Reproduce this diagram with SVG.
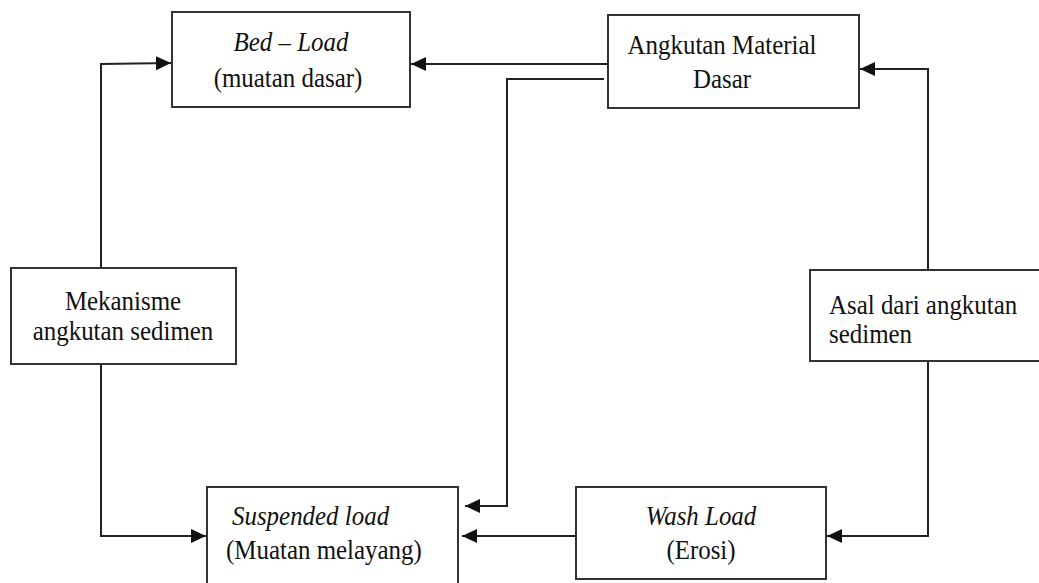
<svg xmlns="http://www.w3.org/2000/svg" width="1039" height="583" viewBox="0 0 1039 583">
<defs>
<style>
.box{fill:#fff;stroke:#333;stroke-width:2}
.t{font-family:"Liberation Serif","Times New Roman",serif;font-size:28px;fill:#111}
.c{text-anchor:middle}
.i{font-style:italic}
.ln{fill:none;stroke:#222;stroke-width:2}
</style>
<marker id="ah" markerUnits="userSpaceOnUse" markerWidth="16" markerHeight="16" refX="15" refY="8" orient="auto">
<path d="M0,1 L15,8 L0,15 Z" fill="#111"/>
</marker>
</defs>
<rect width="1039" height="583" fill="#fff"/>
<g id="connectors">
<path class="ln" d="M101,268 L101,64 L171,63" marker-end="url(#ah)"/>
<path class="ln" d="M101,364 L101,536 L206,536" marker-end="url(#ah)"/>
<path class="ln" d="M608,64 L411,64" marker-end="url(#ah)"/>
<path class="ln" d="M604,79 L507,79 L507,506 L465,506" marker-end="url(#ah)"/>
<path class="ln" d="M928,270 L928,69 L860,69" marker-end="url(#ah)"/>
<path class="ln" d="M928,361 L928,536 L827,536" marker-end="url(#ah)"/>
<path class="ln" d="M576,536 L462,536" marker-end="url(#ah)"/>
</g>
<g id="bedload">
<rect class="box" x="172" y="12" width="238" height="95"/>
<text class="t c i" transform="matrix(0.89 0 0 1 291 51)">Bed – Load</text>
<text class="t c" transform="matrix(0.89 0 0 1 288 87)">(muatan dasar)</text>
</g>
<g id="angkutan">
<rect class="box" x="608" y="15" width="251" height="93"/>
<text class="t c" transform="matrix(0.89 0 0 1 722 54)">Angkutan Material</text>
<text class="t c" transform="matrix(0.89 0 0 1 722 88)">Dasar</text>
</g>
<g id="mekanisme">
<rect class="box" x="11" y="268" width="225" height="96"/>
<text class="t c" transform="matrix(0.89 0 0 1 123 310)">Mekanisme</text>
<text class="t c" transform="matrix(0.89 0 0 1 123 340)">angkutan sedimen</text>
</g>
<g id="asal">
<rect class="box" x="810" y="270" width="240" height="91"/>
<text class="t" transform="matrix(0.89 0 0 1 829 314)">Asal dari angkutan</text>
<text class="t" transform="matrix(0.89 0 0 1 829 343)">sedimen</text>
</g>
<g id="suspended">
<rect class="box" x="207" y="487" width="251" height="98"/>
<text class="t i" transform="matrix(0.89 0 0 1 232 525)">Suspended load</text>
<text class="t" transform="matrix(0.89 0 0 1 226 559)">(Muatan melayang)</text>
</g>
<g id="washload">
<rect class="box" x="576" y="487" width="250" height="92"/>
<text class="t c i" transform="matrix(0.89 0 0 1 701 525)">Wash Load</text>
<text class="t c" transform="matrix(0.89 0 0 1 701 559)">(Erosi)</text>
</g>
</svg>
